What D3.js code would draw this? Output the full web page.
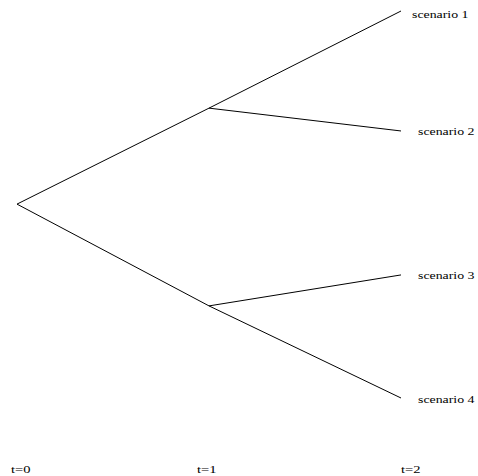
<!DOCTYPE html>
<html>
<head>
<meta charset="utf-8">
<script src="https://cdn.jsdelivr.net/npm/d3@7"></script>
<style>
  html, body { margin: 0; padding: 0; background: #fff; }
  svg { display: block; }
  text { font-family: "Liberation Serif", "Times New Roman", serif; fill: #000; }
</style>
</head>
<body>
<svg id="chart" width="478" height="476"></svg>
<script>
// ---- data ----
const timeLabels = ["t=0", "t=1", "t=2"];
const scenarioLabels = ["scenario 1", "scenario 2", "scenario 3", "scenario 4"];
// node states per stage (arbitrary value units)
const rootValue = 0.501;
const stage1Values = [0.749, 0.238];
const stage2Values = [1.0, 0.690, 0.318, 0.0];
const stage2Parent = [0, 0, 1, 1];

const svg = d3.select("#chart");
const x = d3.scaleLinear().domain([0, 2]).range([17, 401]);
const y = d3.scaleLinear().domain([0, 1]).range([398, 11]);
const xLabel = d3.scaleLinear().domain([0, 1, 2]).range([11, 197, 401]);

const edges = [];
stage1Values.forEach(v => edges.push({t0: 0, v0: rootValue, t1: 1, v1: v}));
stage2Values.forEach((v, i) => edges.push({t0: 1, v0: stage1Values[stage2Parent[i]], t1: 2, v1: v}));

svg.append("g").selectAll("line").data(edges).join("line")
  .attr("x1", d => x(d.t0)).attr("y1", d => y(d.v0))
  .attr("x2", d => x(d.t1)).attr("y2", d => y(d.v1))
  .attr("stroke", "#000").attr("stroke-width", 1);

svg.append("g").selectAll("text").data(scenarioLabels).join("text")
  .attr("x", (d, i) => x(2) + (i === 0 ? 11 : 17))
  .attr("y", (d, i) => y(stage2Values[i]) + (i === 0 ? 7 : 4.5))
  .attr("font-size", 11)
  .attr("textLength", 56.5)
  .attr("lengthAdjust", "spacingAndGlyphs")
  .text(d => d);

svg.append("g").selectAll("text").data(timeLabels).join("text")
  .attr("x", (d, i) => xLabel(i))
  .attr("y", 473)
  .attr("font-size", 11)
  .attr("textLength", 19.5)
  .attr("lengthAdjust", "spacingAndGlyphs")
  .text(d => d);
</script>
</body>
</html>
